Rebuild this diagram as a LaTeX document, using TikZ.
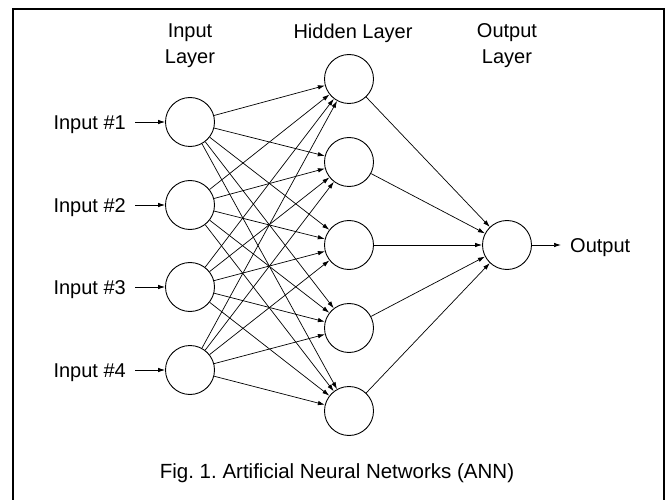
\documentclass[tikz,border=0pt]{standalone}
\usepackage{fontspec}
\setmainfont{Liberation Sans}
\usetikzlibrary{arrows.meta}
\frenchspacing
\begin{document}
\begin{tikzpicture}[x=1pt,y=-1pt,
  neuron/.style={circle,draw,line width=0.9pt,minimum size=49pt,inner sep=0pt},
  conn/.style={line width=0.7pt,-{Latex[length=7pt,width=4.5pt]}},
  lbl/.style={font=\fontsize{20}{26}\selectfont,inner sep=0pt},
  inlbl/.style={lbl,text height=14.5pt,text depth=0pt,inner xsep=9pt,inner ysep=0pt},
  caption/.style={font=\fontsize{20.5}{25}\selectfont,inner sep=0pt}
]
\useasboundingbox (0,0) rectangle (670,500);
\draw[line width=2.5pt] (13,501) -- (13,9) -- (664,9) -- (664,501);
% input layer
\foreach \k/\y in {1/122,2/205,3/287,4/370} {
  \node[neuron] (i\k) at (190,\y) {};
  \node[inlbl,anchor=east] (l\k) at (135,\y) {Input \#\k};
  \draw[conn] (l\k) -- (i\k);
}
% hidden layer
\foreach \k/\y in {1/79,2/162,3/245,4/328,5/411} {
  \node[neuron] (h\k) at (349,\y) {};
}
% output layer
\node[neuron] (o) at (507,245) {};
\foreach \i in {1,...,4} {
  \foreach \h in {1,...,5} {
    \draw[conn] (i\i) -- (h\h);
  }
}
\foreach \h in {1,...,5} {
  \draw[conn] (h\h) -- (o);
}
\node[inlbl,anchor=west] (out) at (561,245) {Output};
\draw[conn] (o) -- (out);
% headings
\node[lbl,align=center] (hin) at (190,46) {Input\\Layer};
\node[lbl] (hhid) at (353,33) {Hidden Layer};
\node[lbl,align=center] (hout) at (507,46) {Output\\Layer};
% caption
\node[caption] (cap) at (337,473) {Fig. 1. Artificial Neural Networks (ANN)};
\end{tikzpicture}
\end{document}
